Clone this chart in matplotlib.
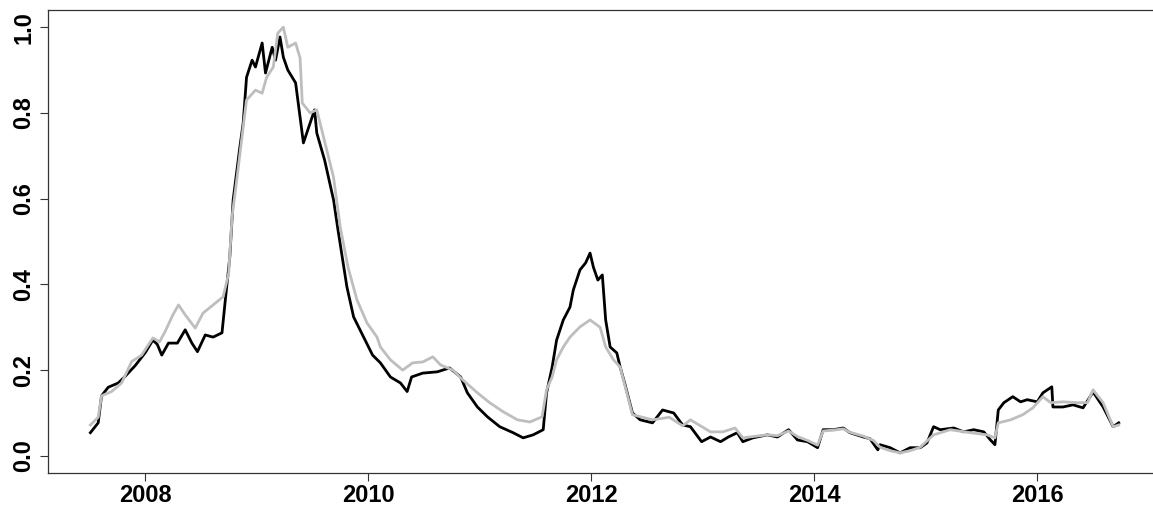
import matplotlib.pyplot as plt

# Serie negra: anio decimal y valor
anios_negra = [2007.51, 2007.58, 2007.61, 2007.67, 2007.76, 2007.82, 2007.91, 2008.00, 2008.07, 2008.11,
               2008.15, 2008.21, 2008.29, 2008.36, 2008.42, 2008.47, 2008.54, 2008.61, 2008.69, 2008.72,
               2008.76, 2008.79, 2008.85, 2008.88, 2008.91, 2008.96, 2008.99, 2009.05, 2009.08, 2009.14,
               2009.17, 2009.21, 2009.24, 2009.28, 2009.35, 2009.37, 2009.42, 2009.48, 2009.52, 2009.54,
               2009.61, 2009.69, 2009.73, 2009.81, 2009.87, 2009.96, 2010.04, 2010.11, 2010.20, 2010.29,
               2010.35, 2010.39, 2010.49, 2010.62, 2010.73, 2010.83, 2010.89, 2010.98, 2011.07, 2011.18,
               2011.30, 2011.39, 2011.48, 2011.57, 2011.60, 2011.65, 2011.69, 2011.75, 2011.81, 2011.84,
               2011.90, 2011.95, 2011.99, 2012.02, 2012.06, 2012.10, 2012.13, 2012.17, 2012.23, 2012.26,
               2012.30, 2012.37, 2012.44, 2012.55, 2012.64, 2012.74, 2012.82, 2012.89, 2012.99, 2013.07,
               2013.16, 2013.23, 2013.31, 2013.36, 2013.45, 2013.58, 2013.67, 2013.77, 2013.85, 2013.94,
               2014.03, 2014.08, 2014.17, 2014.26, 2014.32, 2014.44, 2014.50, 2014.57, 2014.59, 2014.68,
               2014.77, 2014.86, 2014.95, 2015.01, 2015.07, 2015.13, 2015.25, 2015.34, 2015.43, 2015.52,
               2015.58, 2015.62, 2015.65, 2015.70, 2015.78, 2015.85, 2015.91, 2016.00, 2016.05, 2016.13,
               2016.14, 2016.23, 2016.32, 2016.41, 2016.50, 2016.59, 2016.68, 2016.73]
valores_negra = [0.054, 0.077, 0.140, 0.160, 0.170, 0.185, 0.210, 0.240, 0.270, 0.260,
                 0.235, 0.263, 0.263, 0.294, 0.263, 0.243, 0.282, 0.277, 0.287, 0.364,
                 0.464, 0.597, 0.720, 0.776, 0.883, 0.923, 0.907, 0.963, 0.893, 0.953,
                 0.923, 0.977, 0.930, 0.900, 0.870, 0.830, 0.730, 0.776, 0.807, 0.753,
                 0.690, 0.597, 0.527, 0.394, 0.324, 0.277, 0.235, 0.217, 0.184, 0.170,
                 0.150, 0.184, 0.193, 0.196, 0.205, 0.184, 0.147, 0.114, 0.091, 0.068,
                 0.054, 0.042, 0.049, 0.061, 0.147, 0.207, 0.270, 0.317, 0.347, 0.387,
                 0.434, 0.450, 0.473, 0.440, 0.410, 0.422, 0.317, 0.254, 0.240, 0.207,
                 0.170, 0.100, 0.084, 0.077, 0.107, 0.100, 0.072, 0.068, 0.033, 0.044,
                 0.033, 0.044, 0.054, 0.033, 0.042, 0.049, 0.044, 0.061, 0.037, 0.033,
                 0.019, 0.061, 0.061, 0.065, 0.054, 0.044, 0.040, 0.014, 0.026, 0.019,
                 0.007, 0.019, 0.019, 0.030, 0.068, 0.061, 0.065, 0.056, 0.061, 0.056,
                 0.037, 0.026, 0.107, 0.124, 0.138, 0.126, 0.131, 0.126, 0.147, 0.161,
                 0.114, 0.114, 0.119, 0.112, 0.149, 0.114, 0.068, 0.077]

# Serie gris
anios_gris = [2007.51, 2007.58, 2007.61, 2007.70, 2007.79, 2007.88, 2007.97, 2008.07, 2008.13, 2008.18,
              2008.25, 2008.30, 2008.36, 2008.45, 2008.52, 2008.61, 2008.70, 2008.75, 2008.78, 2008.83,
              2008.88, 2008.91, 2008.99, 2009.05, 2009.09, 2009.15, 2009.19, 2009.24, 2009.28, 2009.35,
              2009.39, 2009.41, 2009.48, 2009.54, 2009.60, 2009.69, 2009.75, 2009.82, 2009.90, 2009.99,
              2010.08, 2010.11, 2010.20, 2010.31, 2010.40, 2010.49, 2010.58, 2010.65, 2010.76, 2010.85,
              2010.98, 2011.09, 2011.21, 2011.34, 2011.45, 2011.56, 2011.60, 2011.65, 2011.69, 2011.75,
              2011.81, 2011.90, 2011.99, 2012.08, 2012.13, 2012.20, 2012.26, 2012.37, 2012.55, 2012.70,
              2012.82, 2012.89, 2013.07, 2013.18, 2013.29, 2013.36, 2013.45, 2013.58, 2013.67, 2013.77,
              2013.85, 2013.94, 2014.03, 2014.08, 2014.17, 2014.26, 2014.32, 2014.44, 2014.53, 2014.59,
              2014.68, 2014.77, 2014.86, 2014.95, 2015.07, 2015.22, 2015.40, 2015.55, 2015.62, 2015.65,
              2015.76, 2015.87, 2015.96, 2016.05, 2016.12, 2016.23, 2016.36, 2016.45, 2016.50, 2016.59,
              2016.68, 2016.73]
valores_gris = [0.072, 0.090, 0.140, 0.150, 0.170, 0.220, 0.235, 0.275, 0.266, 0.290,
                0.329, 0.352, 0.329, 0.298, 0.333, 0.352, 0.371, 0.426, 0.557, 0.660,
                0.767, 0.830, 0.853, 0.846, 0.883, 0.907, 0.986, 1.000, 0.953, 0.963,
                0.928, 0.823, 0.800, 0.807, 0.744, 0.650, 0.534, 0.440, 0.364, 0.310,
                0.277, 0.254, 0.224, 0.200, 0.217, 0.219, 0.231, 0.212, 0.200, 0.177,
                0.147, 0.124, 0.103, 0.084, 0.079, 0.091, 0.154, 0.184, 0.224, 0.254,
                0.277, 0.301, 0.317, 0.300, 0.254, 0.224, 0.207, 0.096, 0.084, 0.090,
                0.070, 0.084, 0.056, 0.056, 0.065, 0.042, 0.045, 0.049, 0.047, 0.058,
                0.045, 0.036, 0.025, 0.058, 0.060, 0.063, 0.055, 0.046, 0.036, 0.020,
                0.012, 0.007, 0.012, 0.020, 0.049, 0.061, 0.054, 0.049, 0.042, 0.077,
                0.084, 0.096, 0.112, 0.138, 0.124, 0.126, 0.124, 0.124, 0.154, 0.124,
                0.068, 0.072]

ticks_x = [2008, 2010, 2012, 2014, 2016]
ticks_y = [0.0, 0.2, 0.4, 0.6, 0.8, 1.0]

plt.rcParams['font.family'] = ['Liberation Sans', 'DejaVu Sans']
plt.rcParams['font.weight'] = 'bold'

fig = plt.figure(figsize=(11.53, 5.07), dpi=100)
ax = fig.add_axes([48 / 1153, 34 / 507, 1112 / 1153, 463 / 507])

ax.plot(anios_negra, valores_negra, color='black', linewidth=2)
ax.plot(anios_gris, valores_gris, color='#BEBEBE', linewidth=2)

# Limites al estilo R (4% extra a cada lado)
ax.set_xlim(2007.13, 2017.10)
ax.set_ylim(-0.04, 1.04)

ax.set_xticks(ticks_x)
ax.set_xticklabels([str(a) for a in ticks_x], fontsize=17, fontweight='bold')
ax.set_yticks(ticks_y)
ax.set_yticklabels([f"{v:.1f}" for v in ticks_y], fontsize=17, fontweight='bold',
                   rotation=90, va='center')

ax.tick_params(axis='both', direction='out', length=6, width=0.8, color='#333333')
ax.tick_params(axis='x', pad=2)
ax.tick_params(axis='y', pad=3)
for lado in ax.spines.values():
    lado.set_linewidth(0.9)
    lado.set_color('#333333')

fig.savefig("out.png", dpi=100)
